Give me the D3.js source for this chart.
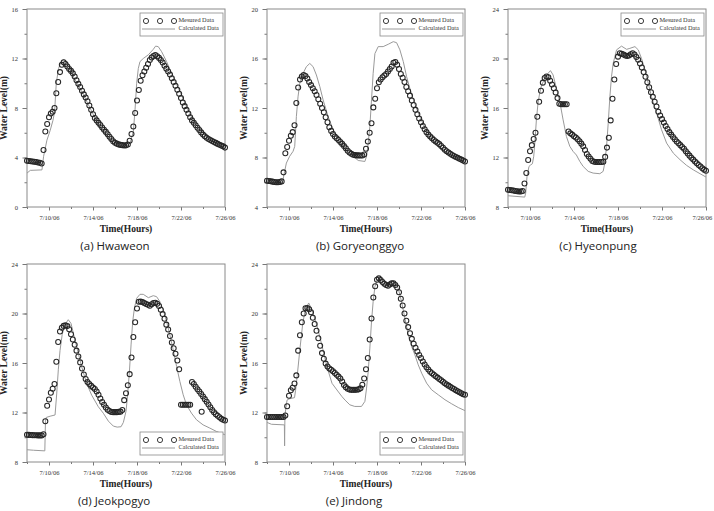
<!DOCTYPE html>
<html>
<head>
<meta charset="utf-8">
<script src="https://cdn.jsdelivr.net/npm/d3@7/dist/d3.min.js"></script>
<style>
  body { margin: 0; background: #fff; }
  svg text { font-family: "Liberation Serif", "Times New Roman", serif; }
  svg text.caption { font-family: "Open Sans", "Noto Sans", sans-serif; }
</style>
</head>
<body>
<svg id="vis" width="714" height="511"></svg>
<script>
// measured levels: one reading every 4 hours from 7/8/06 0:00 to 7/26/06 0:00
var startDay = "7/8/06", endDay = "7/26/06";
var stepHours = 4;
var xTickLabels = ["7/10/06", "7/14/06", "7/18/06", "7/22/06", "7/26/06"];

var hwaweonTicks = [0, 4, 8, 12, 16];
var goryeonggyoTicks = [4, 8, 12, 16, 20];
var hyeonpungTicks = [8, 12, 16, 20, 24];
var jeokpogyoTicks = [8, 12, 16, 20, 24];
var jindongTicks = [8, 12, 16, 20, 24];

var captions = ["(a) Hwaweon", "(b) Goryeonggyo", "(c) Hyeonpung", "(d) Jeokpogyo", "(e) Jindong"];
var legendLabels = ["Mesured Data", "Calculated Data"];

var hwaweonMeasured = [
  3.74, 3.72, 3.70, 3.68, 3.66, 3.64,
  3.60, 3.57, 3.52, 4.60, 6.10, 6.70,
  7.25, 7.55, 7.70, 8.00, 9.20, 10.10,
  10.90, 11.50, 11.70, 11.55, 11.35, 11.15,
  11.00, 10.80, 10.55, 10.25, 9.95, 9.70,
  9.40, 9.10, 8.85, 8.55, 8.20, 7.85,
  7.50, 7.20, 7.00, 6.80, 6.62, 6.42,
  6.25, 6.07, 5.88, 5.68, 5.50, 5.32,
  5.20, 5.12, 5.06, 5.02, 5.00, 4.97,
  4.98, 5.05, 5.35, 5.90, 6.50, 7.60,
  8.60, 9.45, 10.20, 10.65, 10.95, 11.25,
  11.55, 11.88, 12.08, 12.20, 12.28, 12.18,
  12.05, 11.88, 11.68, 11.42, 11.18, 10.95,
  10.70, 10.40, 10.10, 9.80, 9.48, 9.15,
  8.80, 8.45, 8.15, 7.85, 7.55, 7.25,
  7.00, 6.80, 6.60, 6.40, 6.22, 6.03,
  5.85, 5.72, 5.60, 5.50, 5.41, 5.33,
  5.25, 5.18, 5.10, 5.03, 4.96, 4.90,
  4.80
];
// calculated: [days after 7/8/06, level]
var hwaweonCalculated = [
  [0, 2.74], [0.3, 2.96], [1.36, 3.0], [1.51, 4.1], [1.81, 5.4], [2.11, 6.2], [2.36, 7.0],
  [2.51, 7.7], [2.66, 10.0], [2.87, 11.2], [3.11, 11.75], [3.32, 11.88], [3.47, 11.85],
  [3.78, 11.5], [4.23, 10.5], [5.14, 9.06], [6.04, 7.45], [6.65, 6.37], [7.55, 5.43],
  [8.46, 4.95], [9.06, 4.9], [9.37, 5.16], [9.67, 6.1], [9.82, 7.85], [9.97, 10.0],
  [10.12, 11.2], [10.27, 11.75], [10.57, 12.0], [11.03, 12.3], [11.48, 12.74], [11.69, 13.0],
  [11.93, 12.96], [12.24, 12.55], [12.69, 11.75], [13.29, 10.5], [13.9, 9.33], [14.5, 8.1],
  [15.11, 7.0], [15.71, 6.24], [16.31, 5.7], [16.92, 5.3], [17.52, 4.97], [18, 4.68]
];

var goryeonggyoMeasured = [
  6.12, 6.10, 6.08, 6.05, 6.02, 6.00,
  6.00, 6.02, 6.07, 6.80, 8.35, 8.85,
  9.35, 9.75, 10.05, 10.60, 12.40, 13.65,
  14.30, 14.55, 14.67, 14.58, 14.38, 14.10,
  13.85, 13.60, 13.35, 13.05, 12.70, 12.35,
  12.00, 11.65, 11.25, 10.85, 10.45, 10.15,
  9.90, 9.70, 9.55, 9.42, 9.25, 9.10,
  8.92, 8.75, 8.55, 8.40, 8.30, 8.22,
  8.19, 8.17, 8.17, 8.16, 8.16, 8.25,
  8.70, 9.30, 10.00, 10.77, 12.05, 12.75,
  13.60, 14.08, 14.30, 14.48, 14.62, 14.75,
  14.95, 15.15, 15.35, 15.65, 15.72, 15.50,
  15.15, 14.75, 14.45, 14.10, 13.70, 13.35,
  13.00, 12.60, 12.25, 11.85, 11.50, 11.15,
  10.85, 10.55, 10.28, 10.05, 9.85, 9.70,
  9.55, 9.42, 9.30, 9.20, 9.08, 8.93,
  8.78, 8.63, 8.50, 8.40, 8.30, 8.20,
  8.12, 8.04, 7.97, 7.90, 7.83, 7.76,
  7.68
];
var goryeonggyoCalculated = [
  [0, 6.0], [1.4, 5.95], [1.61, 6.9], [1.76, 7.55], [2.06, 8.1], [2.37, 8.5], [2.52, 8.9],
  [2.67, 11.3], [2.82, 12.9], [2.98, 14.0], [3.28, 14.8], [3.58, 15.34], [3.89, 15.6],
  [4.19, 15.34], [4.49, 14.67], [4.8, 13.73], [5.1, 12.66], [5.56, 11.3], [6.01, 10.24],
  [6.47, 9.43], [7.07, 8.76], [7.68, 8.22], [8.29, 7.76], [8.9, 7.68], [9.05, 8.1],
  [9.2, 9.16], [9.35, 10.5], [9.5, 12.66], [9.65, 14.8], [9.81, 16.4], [10.11, 16.96],
  [10.56, 16.96], [11.02, 17.15], [11.48, 17.36], [11.78, 17.28], [12.08, 16.7], [12.39, 15.75],
  [12.69, 14.54], [13.15, 13.06], [13.75, 11.6], [14.36, 10.37], [14.97, 9.56], [15.57, 8.9],
  [16.18, 8.49], [16.79, 8.14], [17.39, 7.87], [18, 7.63]
];

var hyeonpungMeasured = [
  9.40, 9.38, 9.36, 9.33, 9.30, 9.28,
  9.26, 9.25, 9.30, 9.90, 10.74, 11.80,
  12.50, 13.00, 13.50, 14.00, 15.30, 16.50,
  17.40, 18.05, 18.42, 18.54, 18.48, 18.20,
  17.90, 17.60, 17.25, 16.80, 16.35, 16.30,
  16.30, 16.30, 16.30, 14.10, 13.95, 13.85,
  13.72, 13.62, 13.48, 13.32, 13.12, 12.90,
  12.60, 12.28, 12.08, 11.90, 11.72, 11.66,
  11.63, 11.63, 11.63, 11.63, 11.66, 12.05,
  12.80, 13.60, 15.00, 16.75, 18.30, 19.55,
  20.15, 20.42, 20.38, 20.33, 20.25, 20.20,
  20.25, 20.35, 20.42, 20.32, 20.12, 19.90,
  19.60, 19.28, 18.90, 18.52, 18.08, 17.68,
  17.28, 16.90, 16.50, 16.12, 15.70, 15.40,
  15.10, 14.82, 14.55, 14.30, 14.05, 13.85,
  13.65, 13.47, 13.30, 13.15, 13.00, 12.85,
  12.70, 12.50, 12.33, 12.15, 11.98, 11.83,
  11.68, 11.54, 11.40, 11.27, 11.13, 11.02,
  10.93
];
var hyeonpungCalculated = [
  [0, 8.91], [1.52, 8.8], [1.61, 9.13], [1.73, 10.47], [1.91, 11.28], [2.06, 11.4], [2.22, 11.5],
  [2.34, 12.1], [2.46, 13.43], [2.58, 15.04], [2.73, 16.4], [2.88, 17.2], [3.04, 17.8],
  [3.34, 18.4], [3.64, 18.8], [3.86, 19.02], [4.1, 18.67], [4.4, 17.6], [4.71, 16.5],
  [5.01, 15.04], [5.31, 13.7], [5.62, 12.9], [5.92, 12.49], [6.22, 12.2], [6.53, 11.68],
  [6.83, 11.28], [7.29, 10.88], [7.74, 10.74], [8.35, 10.69], [8.65, 10.88], [8.8, 11.55],
  [8.96, 12.9], [9.11, 14.77], [9.26, 16.9], [9.41, 18.54], [9.56, 19.6], [9.87, 20.7],
  [10.32, 21.0], [10.78, 20.74], [11.08, 20.82], [11.54, 20.96], [11.84, 20.7], [12.14, 20.0],
  [12.45, 19.1], [12.75, 18.0], [13.05, 16.9], [13.51, 15.58], [13.96, 14.24], [14.42, 13.16],
  [15.03, 12.35], [15.64, 11.82], [16.24, 11.36], [16.85, 11.0], [17.46, 10.69], [18, 10.42]
];

var jeokpogyoMeasured = [
  10.20, 10.19, 10.18, 10.17, 10.16, 10.16,
  10.15, 10.15, 10.15, 10.25, 11.30, 12.55,
  13.05, 13.60, 13.92, 14.30, 16.10, 17.70,
  18.55, 18.85, 19.00, 19.05, 18.98, 18.72,
  18.32, 17.90, 17.47, 17.00, 16.52, 16.05,
  15.55, 15.07, 14.70, 14.47, 14.30, 14.15,
  14.02, 13.90, 13.70, 13.43, 13.13, 12.85,
  12.62, 12.40, 12.23, 12.12, 12.04, 12.03,
  12.03, 12.03, 12.05, 12.07, 12.20, 13.00,
  13.55, 14.20, 15.10, 16.45, 18.10, 19.30,
  20.40, 20.95, 20.96, 20.92, 20.85, 20.77,
  20.70, 20.63, 20.75, 20.85, 20.87, 20.78,
  20.60, 20.30, 19.95, 19.57, 19.10, 18.70,
  18.18, 17.65, 17.20, 16.75, 16.20, 15.50,
  12.62, 12.62, 12.62, 12.62, 12.62, 12.62,
  14.47, 14.30, 14.08, 13.88, 13.70, 13.50,
  13.30, 13.08, 12.87, 12.65, 12.42, 12.20,
  12.02, 11.86, 11.74, 11.62, 11.50, 11.42,
  11.36
];
// one stray reading that sits off the regular grid
var jeokpogyoExtra = [[15.88, 12.06]];
var jeokpogyoCalculated = [
  [0, 8.99], [0.6, 8.95], [1.62, 8.9], [1.68, 11.3], [1.75, 11.6], [2.1, 11.7], [2.55, 11.8],
  [2.7, 13.5], [2.85, 15.5], [3.0, 17.0], [3.2, 18.3], [3.45, 19.1], [3.75, 19.5], [4.0, 19.2],
  [4.36, 17.86], [4.97, 15.7], [5.42, 14.36], [5.88, 13.4], [6.48, 12.47], [6.94, 11.94],
  [7.4, 11.3], [7.85, 10.9], [8.2, 10.82], [8.55, 10.85], [8.76, 11.2], [9.0, 12.09],
  [9.15, 13.43], [9.31, 15.31], [9.46, 17.46], [9.61, 19.35], [9.76, 20.42], [9.97, 21.23],
  [10.27, 21.55], [10.57, 21.55], [11.03, 21.28], [11.48, 21.44], [11.78, 21.36], [12.08, 20.96],
  [12.39, 20.28], [12.69, 19.35], [12.99, 18.27], [13.29, 17.06], [13.6, 15.72], [13.9, 14.5],
  [14.2, 13.43], [14.5, 12.62], [14.95, 11.95], [15.41, 11.41], [16.01, 11.0], [16.62, 10.74],
  [17.22, 10.47], [18, 10.2]
];

var jindongMeasured = [
  11.63, 11.63, 11.63, 11.63, 11.63, 11.63,
  11.63, 11.63, 11.63, 11.63, 11.75, 12.50,
  13.35, 13.80, 14.00, 14.35, 15.00, 17.00,
  18.25, 19.30, 20.00, 20.42, 20.45, 20.35,
  20.10, 19.65, 19.15, 18.60, 18.00, 17.40,
  16.80, 16.35, 15.95, 15.72, 15.55, 15.45,
  15.33, 15.20, 15.05, 14.90, 14.75, 14.50,
  14.22, 14.05, 13.92, 13.85, 13.83, 13.83,
  13.83, 13.84, 13.87, 13.95, 14.25, 14.75,
  15.50, 16.40, 17.90, 19.60, 21.30, 22.20,
  22.72, 22.84, 22.70, 22.55, 22.40, 22.30,
  22.25, 22.35, 22.44, 22.44, 22.30, 22.10,
  21.72, 21.20, 20.65, 20.00, 19.42, 18.90,
  18.40, 17.95, 17.55, 17.23, 16.93, 16.65,
  16.40, 16.12, 15.88, 15.66, 15.48, 15.30,
  15.17, 15.05, 14.93, 14.82, 14.70, 14.60,
  14.48, 14.37, 14.27, 14.17, 14.08, 13.98,
  13.90, 13.80, 13.72, 13.63, 13.55, 13.48,
  13.43
];
var jindongCalculated = [
  [0, 11.2], [0.4, 11.05], [1.58, 11.0], [1.6, 9.3], [1.63, 11.8], [1.82, 13.0], [2.0, 13.1],
  [2.5, 13.2], [2.6, 13.8], [2.75, 15.0], [3.0, 17.2], [3.25, 19.2], [3.48, 20.3], [3.79, 20.85],
  [4.09, 20.3], [4.55, 19.0], [5.0, 17.4], [5.45, 15.7], [5.91, 14.36], [6.36, 13.82],
  [6.82, 13.28], [7.1, 13.0], [7.53, 12.62], [7.98, 12.49], [8.59, 12.49], [8.9, 12.9],
  [9.05, 13.97], [9.2, 15.3], [9.35, 17.2], [9.5, 19.34], [9.65, 20.96], [9.81, 22.17],
  [10.02, 22.7], [10.26, 22.84], [10.56, 22.57], [10.87, 22.44], [11.17, 22.57], [11.63, 22.57],
  [11.93, 22.03], [12.23, 20.96], [12.54, 19.6], [12.84, 18.27], [13.15, 17.33], [13.45, 16.65],
  [13.75, 15.85], [14.06, 15.18], [14.51, 14.37], [14.97, 13.83], [15.57, 13.43], [16.18, 13.03],
  [16.79, 12.7], [17.39, 12.4], [18, 12.15]
];

var panels = [
  {caption: captions[0], ticks: hwaweonTicks, measured: hwaweonMeasured, extra: [], calc: hwaweonCalculated,
   left: 27, top: 9, legend: "top", captionX: 115},
  {caption: captions[1], ticks: goryeonggyoTicks, measured: goryeonggyoMeasured, extra: [], calc: goryeonggyoCalculated,
   left: 267, top: 9, legend: "top", captionX: 360},
  {caption: captions[2], ticks: hyeonpungTicks, measured: hyeonpungMeasured, extra: [], calc: hyeonpungCalculated,
   left: 508, top: 9, legend: "top", captionX: 598},
  {caption: captions[3], ticks: jeokpogyoTicks, measured: jeokpogyoMeasured, extra: jeokpogyoExtra, calc: jeokpogyoCalculated,
   left: 27, top: 264, legend: "bottom", captionX: 114},
  {caption: captions[4], ticks: jindongTicks, measured: jindongMeasured, extra: [], calc: jindongCalculated,
   left: 267, top: 264, legend: "bottom", captionX: 354}
];

var plotW = 198, plotH = 198;
var parse = d3.timeParse("%m/%d/%y");
var fmt = d3.timeFormat("%-m/%-d/%y");
var t0 = parse(startDay), t1 = parse(endDay);
var dayDate = function(d) { return new Date(t0.getTime() + d * 864e5); };

var svg = d3.select("#vis");

panels.forEach(function(p) {
  var x = d3.scaleTime().domain([t0, t1]).range([p.left, p.left + plotW]);
  var y = d3.scaleLinear().domain(d3.extent(p.ticks)).range([p.top + plotH, p.top]);
  var g = svg.append("g");

  // minor ticks every 2 m / 2 days
  var yMinor = d3.range(p.ticks[0], p.ticks[p.ticks.length - 1] + 1, 2);
  var xMinor = d3.range(0, 19, 2).map(dayDate);

  g.append("g").attr("transform", "translate(" + p.left + ",0)")
    .call(d3.axisLeft(y).tickValues(yMinor).tickSize(2.5).tickFormat(""));
  g.append("g").attr("transform", "translate(" + p.left + ",0)")
    .call(d3.axisLeft(y).tickValues(p.ticks).tickSize(4.5).tickPadding(4.5).tickFormat(d3.format("d")));
  g.append("g").attr("transform", "translate(0," + (p.top + plotH) + ")")
    .call(d3.axisBottom(x).tickValues(xMinor).tickSize(2).tickFormat(""));
  g.append("g").attr("class", "xlab").attr("transform", "translate(0," + (p.top + plotH) + ")")
    .call(d3.axisBottom(x).tickValues(xTickLabels.map(parse)).tickSize(3.5).tickPadding(5).tickFormat(fmt));

  g.selectAll(".domain").remove();
  g.selectAll(".tick line").attr("stroke", "#777");
  g.selectAll(".tick text").attr("fill", "#333").attr("font-size", 6.5)
    .attr("font-family", "'Liberation Serif', serif");
  // keep the last date label inside the page
  g.selectAll(".xlab .tick text").each(function() {
    var r = this.getBoundingClientRect();
    if (r.right > 713) d3.select(this).attr("dx", 713 - r.right);
  });

  g.append("rect")
    .attr("x", p.left).attr("y", p.top).attr("width", plotW).attr("height", plotH)
    .attr("fill", "none").attr("stroke", "#8a8a8a").attr("stroke-width", 1);

  // calculated line
  var line = d3.line().x(function(d) { return x(dayDate(d[0])); }).y(function(d) { return y(d[1]); });
  g.append("path").datum(p.calc)
    .attr("d", line).attr("fill", "none").attr("stroke", "#9a9a9a").attr("stroke-width", 1);

  // measured circles
  var pts = p.measured.map(function(v, i) { return [d3.timeHour.offset(t0, i * stepHours), v]; })
    .concat(p.extra.map(function(d) { return [dayDate(d[0]), d[1]]; }));
  g.append("g").selectAll("circle").data(pts).join("circle")
    .attr("cx", function(d) { return x(d[0]); })
    .attr("cy", function(d) { return y(d[1]); })
    .attr("r", 2.5)
    .attr("fill", "none").attr("stroke", "#262626").attr("stroke-width", 1.05);

  // axis titles
  g.append("text")
    .attr("transform", "translate(" + (p.left - 22.5) + "," + (p.top + plotH / 2) + ") rotate(-90)")
    .attr("text-anchor", "middle").attr("dominant-baseline", "middle")
    .attr("font-size", 9.5).attr("font-weight", "bold").attr("fill", "#222")
    .text("Water Level(m)");
  g.append("text")
    .attr("x", p.left + plotW / 2).attr("y", p.top + plotH + 23)
    .attr("text-anchor", "middle").attr("dominant-baseline", "middle")
    .attr("font-size", 9.5).attr("font-weight", "bold").attr("fill", "#222")
    .text("Time(Hours)");
  g.append("text").attr("class", "caption")
    .attr("x", p.captionX).attr("y", p.top + plotH + 39.5)
    .attr("text-anchor", "middle").attr("dominant-baseline", "middle")
    .attr("font-size", 11.5).attr("fill", "#222")
    .text(p.caption);

  // legend
  var lw = 83, lh = 23;
  var lx = p.left + plotW - 2 - lw;
  var ly = p.legend === "top" ? p.top + 4 : p.top + plotH - 7 - lh;
  var lg = g.append("g").attr("transform", "translate(" + lx + "," + ly + ")");
  lg.append("rect").attr("width", lw).attr("height", lh)
    .attr("fill", "#fff").attr("stroke", "#8a8a8a").attr("stroke-width", 0.8);
  lg.selectAll("circle").data([6, 20, 34]).join("circle")
    .attr("cx", function(d) { return d; }).attr("cy", 8).attr("r", 2.6)
    .attr("fill", "none").attr("stroke", "#262626").attr("stroke-width", 0.9);
  lg.append("line").attr("x1", 2).attr("x2", 35).attr("y1", 16).attr("y2", 16)
    .attr("stroke", "#9a9a9a").attr("stroke-width", 1);
  lg.selectAll("text").data(legendLabels).join("text")
    .attr("x", 38.5).attr("y", function(d, i) { return 8 + i * 8; })
    .attr("dominant-baseline", "middle").attr("font-size", 6.3).attr("fill", "#333")
    .text(function(d) { return d; });
});
</script>
</body>
</html>
